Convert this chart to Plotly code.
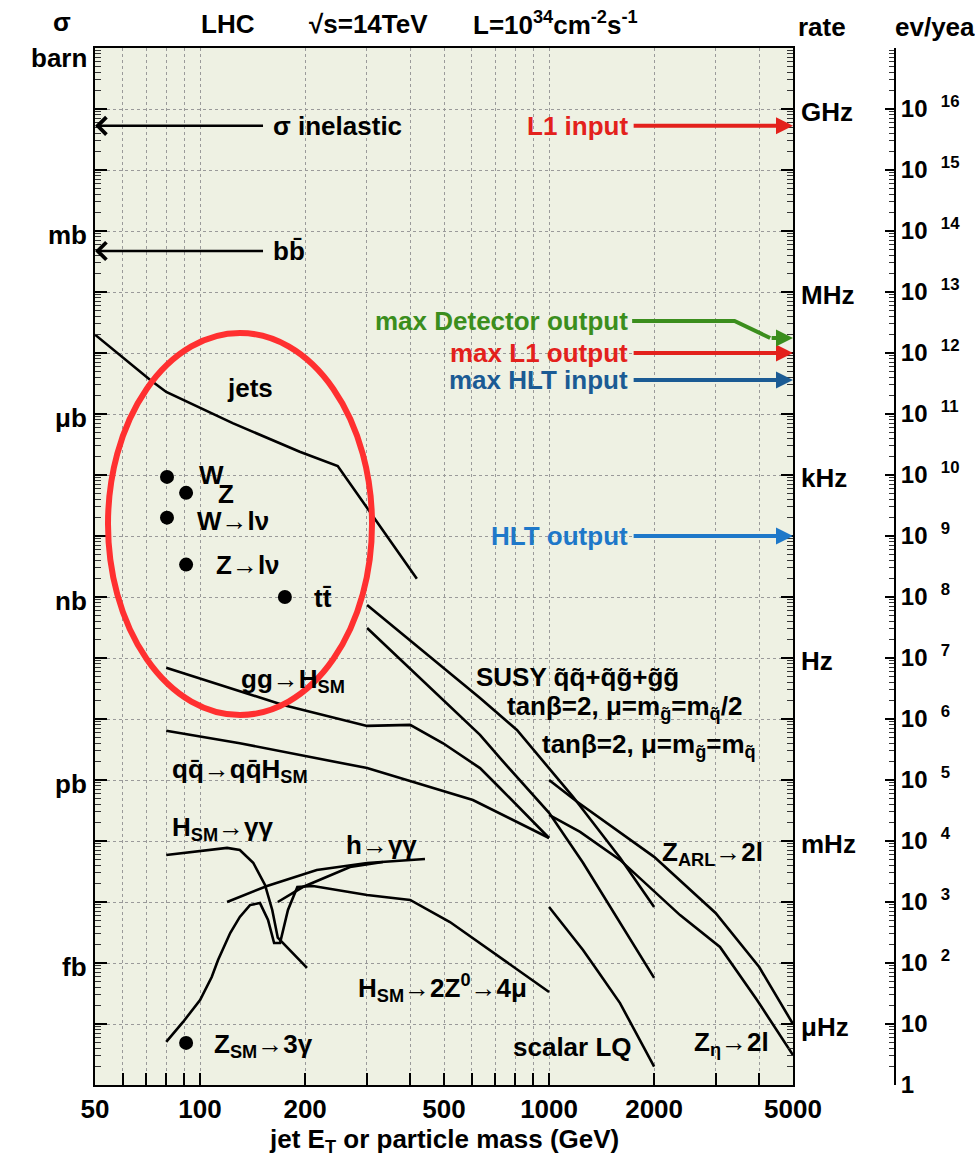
import numpy as np
import plotly.graph_objects as go

# ---------------- data (E in GeV, cross section sigma in barn) ----------------
JETS_E = [50, 72, 80, 124, 193, 248, 418]
JETS_SIGMA = [2.0e-5, 3.6e-6, 2.3e-6, 7.1e-7, 2.4e-7, 1.4e-7, 2.0e-9]

GGH_E = [80, 173, 301, 400, 497, 634, 723, 1000]
GGH_SIGMA = [6.9e-11, 1.7e-11, 7.7e-12, 8.0e-12, 4.0e-12, 1.57e-12, 7.4e-13, 1.12e-13]

QQH_E = [80, 130, 301, 605, 1000]
QQH_SIGMA = [6.4e-12, 4.0e-12, 1.57e-12, 4.7e-13, 1.12e-13]

HGG_E = [80, 119.5, 130, 142, 153.5, 161, 167, 202.5]
HGG_SIGMA = [5.9e-14, 7.7e-14, 7.1e-14, 4.4e-14, 1.9e-14, 7.4e-15, 2.6e-15, 8.3e-16]

HLGG_E = [119.5, 155.6, 216, 301, 441]
HLGG_SIGMA = [1.0e-14, 1.83e-14, 3.35e-14, 4.36e-14, 5.07e-14]
HLGG2_E = [167, 197, 269, 334]
HLGG2_SIGMA = [1.0e-14, 1.76e-14, 3.75e-14, 4.53e-14]

H4MU_E = [80, 89.4, 100, 108, 112.6, 122, 130, 139, 148.5, 156.6, 163, 169.5,
          178.6, 190, 210.7, 301, 400, 520, 1000]
H4MU_SIGMA = [5.1e-17, 1.08e-16, 2.47e-16, 5.9e-16, 1.12e-15, 3.1e-15, 5.7e-15, 8.9e-15,
              9.6e-15, 5.1e-15, 2.13e-15, 2.13e-15, 7.4e-15, 1.76e-14, 1.83e-14, 1.30e-14,
              1.08e-14, 4.7e-15, 3.35e-16]

SUSY1_E = [301, 634, 809, 1000, 1171, 1597, 2000]
SUSY1_SIGMA = [7.4e-10, 2.2e-11, 6.6e-12, 1.57e-12, 5.3e-13, 5.3e-14, 8.3e-15]
SUSY2_E = [301, 634, 723, 1000, 1251, 1787, 2000]
SUSY2_SIGMA = [3.1e-10, 5.5e-12, 2.3e-12, 2.9e-13, 4.4e-14, 1.63e-15, 5.7e-16]

ZARL_E = [1000, 1203, 2000, 3000, 4000, 5000]
ZARL_SIGMA = [1.0e-12, 4.4e-13, 5.5e-14, 6.6e-15, 8.6e-16, 1.0e-16]
ZETA_E = [1000, 1227, 1597, 2373, 3088, 3943, 5000]
ZETA_SIGMA = [2.67e-13, 1.41e-13, 4.9e-14, 6.1e-15, 1.83e-15, 2.47e-16, 3.1e-17]

LQ_E = [1000, 1251, 1372, 1597, 2000]
LQ_SIGMA = [8.3e-15, 1.63e-15, 7.7e-16, 2.2e-16, 2.0e-17]

# single processes (dots)
DOT_E = [80.4, 91.2, 80.4, 91.2, 175, 91.2]
DOT_SIGMA = [9.3e-8, 5.1e-8, 2.0e-8, 3.4e-9, 1.0e-9, 4.9e-17]

# reference arrows on the left
LEFT_ARROW_LABELS = ["σ inelastic", "bb̄"]
LEFT_ARROW_SIGMA = [5.3e-2, 4.7e-4]
LEFT_ARROW_E_END = 153

# trigger rates (arrows on the right)
TRIGGER_LABELS = ["L1 input", "max L1 output", "max HLT input", "HLT output"]
TRIGGER_SIGMA = [5.3e-2, 1.0e-5, 3.6e-6, 1.0e-8]
TRIGGER_E_START = 1730
DETECTOR_LABEL = "max Detector output"
DETECTOR_E = [1730, 3400, 4300, 5000]
DETECTOR_SIGMA = [3.35e-5, 3.35e-5, 1.76e-5, 1.76e-5]

# axis tick labels
X_TICKS = [50, 60, 70, 80, 90, 100, 200, 300, 400, 500, 600, 700, 800, 900,
           1000, 2000, 3000, 4000, 5000]
X_LABELED = [50, 100, 200, 500, 1000, 2000, 5000]
SIGMA_UNITS = ["barn", "mb", "μb", "nb", "pb", "fb"]
SIGMA_UNIT_VALUES = [1, 1e-3, 1e-6, 1e-9, 1e-12, 1e-15]
RATE_UNITS = ["GHz", "MHz", "kHz", "Hz", "mHz", "μHz"]
RATE_UNIT_SIGMA = [1e-1, 1e-4, 1e-7, 1e-10, 1e-13, 1e-16]
EVYEAR_EXPONENTS = list(range(0, 17))

# ---------------- styling ----------------
W, H = 975, 1159
ML, MR, MT, MB = 95, 15, 48, 74
PW, PH = W - ML - MR, H - MT - MB
X_DOMAIN_END = (793 - ML) / PW
FONT = "Liberation Sans, Arial, Helvetica, sans-serif"
FS = 26
RED = "#e3211c"
GREEN = "#3b8e1d"
DARKBLUE = "#1b5b94"
BLUE = "#1e78c9"


def P(px, py):
    """pixel position -> paper coordinates (for text placement)"""
    return (px - ML) / PW, (H - MB - py) / PH


fig = go.Figure()

curves = [(JETS_E, JETS_SIGMA), (GGH_E, GGH_SIGMA), (QQH_E, QQH_SIGMA),
          (HGG_E, HGG_SIGMA), (HLGG_E, HLGG_SIGMA), (HLGG2_E, HLGG2_SIGMA),
          (H4MU_E, H4MU_SIGMA), (SUSY1_E, SUSY1_SIGMA), (SUSY2_E, SUSY2_SIGMA),
          (ZARL_E, ZARL_SIGMA), (ZETA_E, ZETA_SIGMA), (LQ_E, LQ_SIGMA)]
for e, s in curves:
    fig.add_trace(go.Scatter(x=e, y=s, mode="lines",
                             line=dict(color="black", width=2.6),
                             hoverinfo="skip", showlegend=False))

fig.add_trace(go.Scatter(x=DOT_E, y=DOT_SIGMA, mode="markers",
                         marker=dict(color="black", size=14),
                         hoverinfo="skip", showlegend=False))

# green detector-output line (shaft), head via annotation below
fig.add_trace(go.Scatter(x=DETECTOR_E[:-1], y=DETECTOR_SIGMA[:-1], mode="lines",
                         line=dict(color=GREEN, width=4),
                         hoverinfo="skip", showlegend=False))

# dummy trace to realise the ev/year axis
fig.add_trace(go.Scatter(x=[50, 50], y=[1, 1e17], yaxis="y2", mode="lines",
                         line=dict(width=0, color="rgba(0,0,0,0)"),
                         hoverinfo="skip", showlegend=False))

ann = []

# left arrows
for lab, s in zip(LEFT_ARROW_LABELS, LEFT_ARROW_SIGMA):
    ann.append(dict(x=np.log10(50), y=np.log10(s), ax=np.log10(LEFT_ARROW_E_END),
                    ay=np.log10(s), xref="x", yref="y", axref="x", ayref="y",
                    text="", showarrow=True, arrowhead=4, arrowsize=1.4,
                    arrowwidth=2.4, arrowcolor="black"))
    ann.append(dict(x=np.log10(LEFT_ARROW_E_END), y=np.log10(s), xref="x", yref="y",
                    text="<b>" + lab + "</b>", showarrow=False, xanchor="left",
                    xshift=6, font=dict(size=FS, color="black", family=FONT)))

# trigger arrows
TRIG_COLORS = [RED, RED, DARKBLUE, BLUE]
for lab, s, c in zip(TRIGGER_LABELS, TRIGGER_SIGMA, TRIG_COLORS):
    ann.append(dict(x=np.log10(5000), y=np.log10(s), ax=np.log10(TRIGGER_E_START),
                    ay=np.log10(s), xref="x", yref="y", axref="x", ayref="y",
                    text="", showarrow=True, arrowhead=2, arrowsize=0.85,
                    arrowwidth=4, arrowcolor=c))
    ann.append(dict(x=np.log10(TRIGGER_E_START), y=np.log10(s), xref="x", yref="y",
                    text="<b>" + lab + "</b>", showarrow=False, xanchor="right",
                    xshift=-2, font=dict(size=FS, color=c, family=FONT)))
ann.append(dict(x=np.log10(DETECTOR_E[-1]), y=np.log10(DETECTOR_SIGMA[-1]),
                ax=np.log10(DETECTOR_E[-2]), ay=np.log10(DETECTOR_SIGMA[-2]),
                xref="x", yref="y", axref="x", ayref="y", text="", showarrow=True,
                arrowhead=2, arrowsize=0.85, arrowwidth=4, arrowcolor=GREEN))
ann.append(dict(x=np.log10(DETECTOR_E[0]), y=np.log10(DETECTOR_SIGMA[0]), xref="x",
                yref="y", text="<b>" + DETECTOR_LABEL + "</b>", showarrow=False,
                xanchor="right", xshift=-2, font=dict(size=FS, color=GREEN, family=FONT)))

# process labels (text, pixel x, pixel y, anchor)
LABELS = [
    ("jets", 250, 388, "center"),
    ("W", 197, 475, "left"),
    ("Z", 216, 494, "left"),
    ("W→lν", 195, 521, "left"),
    ("Z→lν", 214, 565, "left"),
    ("tt̄", 312, 598, "left"),
    ("gg→H<sub>SM</sub>", 239, 680, "left"),
    ("qq̄→qq̄H<sub>SM</sub>", 170, 770, "left"),
    ("H<sub>SM</sub>→γγ", 170, 828, "left"),
    ("h→γγ", 344, 845, "left"),
    ("H<sub>SM</sub>→2Z<sup>0</sup>→4μ", 356, 988, "left"),
    ("Z<sub>SM</sub>→3γ", 212, 1045, "left"),
    ("scalar LQ", 511, 1047, "left"),
    ("Z<sub>η</sub>→2l", 692, 1043, "left"),
    ("Z<sub>ARL</sub>→2l", 660, 853, "left"),
    ("SUSY q̃q̃+q̃g̃+g̃g̃", 474, 677, "left"),
    ("tanβ=2, μ=m<sub>g̃</sub>=m<sub>q̃</sub>/2", 505, 708, "left"),
    ("tanβ=2, μ=m<sub>g̃</sub>=m<sub>q̃</sub>", 540, 745, "left"),
]
for t, px, py, anc in LABELS:
    x, y = P(px, py)
    ann.append(dict(x=x, y=y, xref="paper", yref="paper", text="<b>" + t + "</b>",
                    showarrow=False, xanchor=anc, yanchor="middle",
                    font=dict(size=FS, color="black", family=FONT)))

# sigma unit labels (left)
for lab, v in zip(SIGMA_UNITS, SIGMA_UNIT_VALUES):
    shift = -10 if v == 1 else -4
    ann.append(dict(x=P(89, 0)[0], y=np.log10(v), xref="paper", yref="y",
                    text="<b>" + lab + "</b>", showarrow=False, xanchor="right",
                    yanchor="middle", yshift=shift,
                    font=dict(size=FS, color="black", family=FONT)))
# rate labels (right)
for lab, v in zip(RATE_UNITS, RATE_UNIT_SIGMA):
    ann.append(dict(x=P(799, 0)[0], y=np.log10(v), xref="paper", yref="y",
                    text="<b>" + lab + "</b>", showarrow=False, xanchor="left",
                    yanchor="middle", yshift=-3,
                    font=dict(size=FS, color="black", family=FONT)))

# header texts
HEADERS = [("σ", 62, 22, "center"), ("LHC", 228, 24, "center"),
           ("√s=14TeV", 368, 24, "center"),
           ("L=10<sup>34</sup>cm<sup>-2</sup>s<sup>-1</sup>", 555, 24, "center"),
           ("rate", 822, 27, "center"), ("ev/year", 893, 27, "left")]
for t, px, py, anc in HEADERS:
    x, y = P(px, py)
    ann.append(dict(x=x, y=y, xref="paper", yref="paper", text="<b>" + t + "</b>",
                    showarrow=False, xanchor=anc, yanchor="middle",
                    font=dict(size=FS, color="black", family=FONT)))

# x-axis title
xt, yt = P(444, 1140)
ann.append(dict(x=xt, y=yt, xref="paper", yref="paper",
                text="<b>jet E<sub>T</sub> or particle mass (GeV)</b>", showarrow=False,
                xanchor="center", yanchor="middle",
                font=dict(size=FS, color="black", family=FONT)))

ex0, ey0 = P(108, 715)
ex1, ey1 = P(372, 333)
shapes = [dict(type="circle", xref="paper", yref="paper", x0=ex0, y0=ey0, x1=ex1, y1=ey1,
               line=dict(color="#ff3030", width=6))]

x_ticktext = ["<b>%d</b>" % v if v in X_LABELED else "" for v in X_TICKS]
ev_ticktext = ["<b>1</b>", "<b>10</b>"] + ["<b>10&nbsp;&nbsp;<sup>%d</sup></b>" % n
                                           for n in EVYEAR_EXPONENTS[2:]]
ev_tickvals = [10.0 ** n for n in EVYEAR_EXPONENTS]

fig.update_layout(
    width=W, height=H, autosize=False,
    margin=dict(l=ML, r=MR, t=MT, b=MB, pad=0, autoexpand=False),
    paper_bgcolor="white", plot_bgcolor="#eef1e3",
    font=dict(family=FONT, size=FS, color="black"),
    showlegend=False,
    xaxis=dict(type="log", range=[np.log10(50), np.log10(5000)], domain=[0, X_DOMAIN_END],
               automargin=False,
               tickmode="array", tickvals=X_TICKS, ticktext=x_ticktext,
               ticks="inside", ticklen=12, tickwidth=1.5, tickcolor="black",
               showline=True, linewidth=2, linecolor="black", mirror=True,
               showgrid=True, gridcolor="#9a9a9a", griddash="dot", gridwidth=1,
               zeroline=False, tickfont=dict(size=FS, family=FONT, color="black")),
    yaxis=dict(type="log", range=[-17, 0], dtick=1, tick0=0, automargin=False,
               ticks="inside", ticklen=12, tickwidth=1.5, tickcolor="black",
               showticklabels=False, showline=True, linewidth=2, linecolor="black",
               mirror="ticks", showgrid=True, gridcolor="#9a9a9a", griddash="dot",
               gridwidth=1, zeroline=False,
               minor=dict(ticks="inside", ticklen=6, tickwidth=1, tickcolor="#333",
                          dtick="D1", showgrid=False)),
    yaxis2=dict(type="log", range=[0, 17], overlaying="y", anchor="free",
                position=(895 - ML) / PW, side="right", automargin=False,
                tickmode="array", tickvals=ev_tickvals, ticktext=ev_ticktext,
                ticks="inside", ticklen=9, tickwidth=1.5, tickcolor="black",
                showline=True, linewidth=2, linecolor="black", showgrid=False,
                zeroline=False, tickfont=dict(size=24, family=FONT, color="black"),
                minor=dict(ticks="inside", ticklen=5, tickwidth=1, tickcolor="#333",
                           dtick="D1", showgrid=False)),
    annotations=ann,
    shapes=shapes,
)

fig.write_html("out.html")
